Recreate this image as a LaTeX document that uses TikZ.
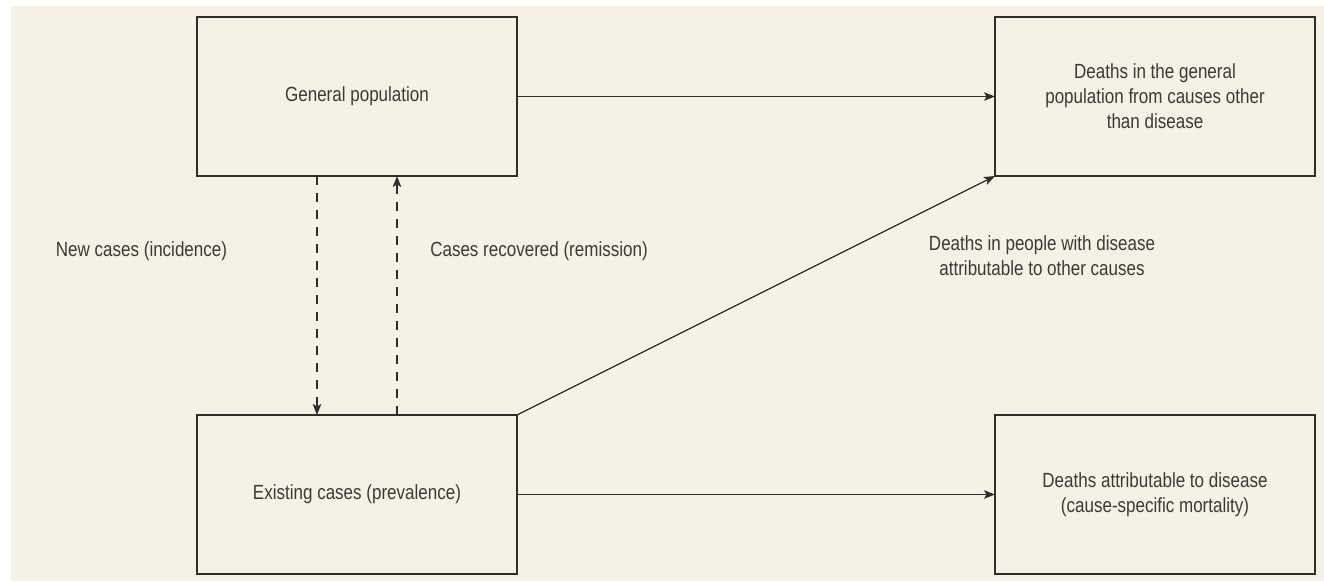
\documentclass[tikz,border=0pt]{standalone}
\usepackage{fontspec}
\setmainfont[FakeStretch=0.83]{Liberation Sans}
\usetikzlibrary{arrows.meta}
\definecolor{cream}{HTML}{F6F1E5}
\definecolor{ink}{HTML}{2E2E2E}
\definecolor{txt}{HTML}{3A3A3A}
\begin{document}
\begin{tikzpicture}[x=1pt,y=-1pt,
  box/.style={draw=ink, line width=1.3pt, rectangle, minimum width=320pt, minimum height=159pt,
    inner sep=0pt, outer sep=0pt, align=center, text=txt, font=\fontsize{20.5}{25}\selectfont},
  lbl/.style={inner sep=0pt, align=center, text=txt, font=\fontsize{20.5}{25}\selectfont},
  conn/.style={draw=ink, line width=1.25pt, -{Stealth[length=11pt,width=8.5pt,inset=2.5pt]}},
  dconn/.style={conn, dash pattern=on 9pt off 8pt}]
\useasboundingbox (0,0) rectangle (1324,581);
\fill[white] (0,0) rectangle (1324,581);
\fill[cream] (11,6) rectangle (1324,581);

\node[box] (gp) at (357,96.5) {General population};
\node[box] (ec) at (357,494.5) {Existing cases (prevalence)};
\node[box] (d1) at (1155,96.5) {Deaths in the general\\population from causes other\\than disease};
\node[box] (d2) at (1155,494.5) {Deaths attributable to disease\\(cause-specific mortality)};

\coordinate (dtop) at (317,176);
\coordinate (dbot) at (317,415);
\coordinate (utop) at (397,176);
\coordinate (ubot) at (397,415);
\draw[dconn] (dtop) -- (dbot);
\draw[dconn] (ubot) -- (utop);

\draw[conn] (gp.east) -- (d1.west);
\draw[conn] (ec.east) -- (d2.west);
\draw[conn] (ec.north east) -- (d1.south west);

\node[lbl] (lnew) at (141.5,251) {New cases (incidence)};
\node[lbl] (lrec) at (539,251) {Cases recovered (remission)};
\node[lbl] (ldiag) at (1042,256) {Deaths in people with disease\\attributable to other causes};
\end{tikzpicture}
\end{document}
